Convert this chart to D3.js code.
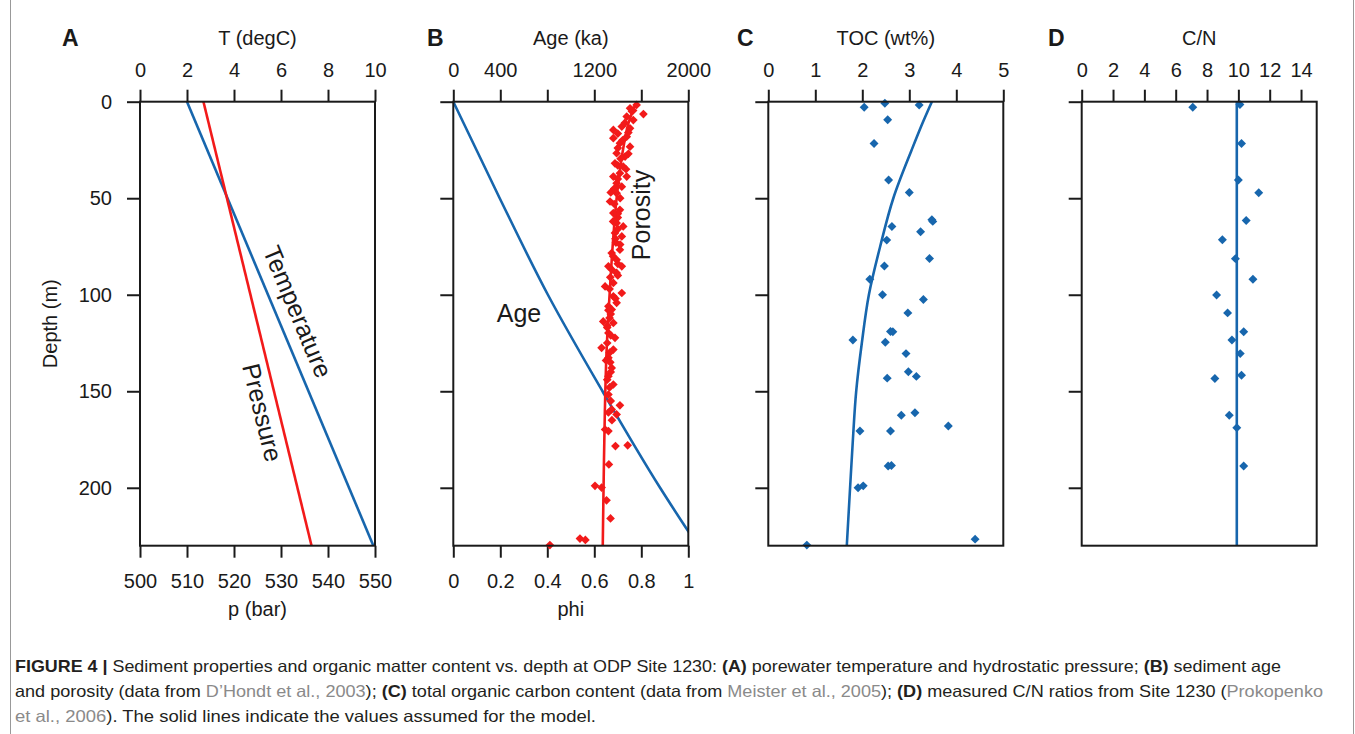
<!DOCTYPE html>
<html>
<head>
<meta charset="utf-8">
<script src="https://cdn.jsdelivr.net/npm/d3@7"></script>
<style>
  body { margin: 0; background: #fff; }
  svg { display: block; font-family: "Liberation Sans", Arial, sans-serif; }
  .tick text { font-size: 20px; fill: #1a1a1a; }
  .tick line { stroke: #1a1a1a; stroke-width: 2; }
</style>
</head>
<body>
<svg id="chart" width="1355" height="734"></svg>
<script>
// depth axis shared by all four panels
const depthMax = 230;
const depthTicks = [0, 50, 100, 150, 200];

// A: temperature and pressure (model lines)
const tempDepth = [0, 230];
const tempValues = [2.0, 9.93];
const pressDepth = [0, 230];
const pressValues = [513.5, 536.5];
const tempTicks = [0, 2, 4, 6, 8, 10];
const pressTicks = [500, 510, 520, 530, 540, 550];

// B: age model and porosity
const ageDepth = [0, 50, 100, 150, 200, 230];
const ageValues = [0, 395, 805, 1270, 1760, 2080];
const ageTicks = [0, 400, 800, 1200, 1600, 2000];
const ageLabels = ["0", "400", "", "1200", "", "2000"];
const phiTicks = [0, 0.2, 0.4, 0.6, 0.8, 1];
const phiLineDepth = [0, 10, 25, 50, 75, 100, 130, 160, 195, 230];
const phiLineValues = [0.78, 0.748, 0.722, 0.695, 0.678, 0.665, 0.652, 0.645, 0.64, 0.636];
const phiDepth = [1.7, 3.4, 6.4, 9.5, 7.7, 14.6, 12.9, 13.8, 18.9, 18.1, 21.5, 23.3, 26.7, 28.4,
  31.9, 33.6, 37, 38.8, 38.8, 42.2, 51.7, 47.4, 44, 57.7, 56, 62.9, 64.6, 68, 69.8, 78.4, 76.7,
  81.9, 85.3, 85.3, 88.7, 95.7, 93.9, 99.1, 100.8, 106, 104.2, 107.7, 113.8, 114.6, 119.8, 122.3,
  127.5, 128.4, 132.7, 137.9, 142.2, 146.5, 151.7, 157.3, 159.4, 162, 170.6, 169.8, 178.4, 178,
  187.9, 199, 199.9, 206.5, 215.9, 226.3, 227, 229.7, 4.5, 16.5, 29.5, 47, 60, 73, 91, 110, 117, 135,
  5, 11, 16, 20, 24, 27, 33, 35, 40, 45, 50, 53, 58, 62, 66, 71, 74, 80, 84, 87, 90, 97, 102, 108,
  112, 116, 121, 125, 130, 134, 140, 144, 148, 155, 161, 165];
const phiValues = [0.78, 0.752, 0.809, 0.766, 0.738, 0.681, 0.717, 0.752, 0.681, 0.738, 0.709, 0.752, 0.695, 0.731,
  0.688, 0.723, 0.709, 0.681, 0.738, 0.695, 0.667, 0.695, 0.717, 0.681, 0.709, 0.695, 0.723, 0.688, 0.717, 0.674, 0.709,
  0.695, 0.717, 0.66, 0.695, 0.646, 0.681, 0.717, 0.681, 0.66, 0.695, 0.674, 0.638, 0.681, 0.66, 0.688,
  0.631, 0.681, 0.66, 0.674, 0.66, 0.681, 0.66, 0.709, 0.674, 0.695, 0.66, 0.646, 0.69, 0.742,
  0.662, 0.603, 0.631, 0.652, 0.669, 0.539, 0.562, 0.411, 0.765, 0.7, 0.712, 0.67, 0.7, 0.692, 0.668, 0.67, 0.655, 0.668,
  0.76, 0.73, 0.745, 0.72, 0.70, 0.745, 0.70, 0.735, 0.70, 0.685, 0.71, 0.685, 0.70, 0.68, 0.70, 0.69, 0.71, 0.68,
  0.70, 0.675, 0.70, 0.665, 0.69, 0.66, 0.665, 0.655, 0.67, 0.655, 0.665, 0.65, 0.67, 0.655, 0.665, 0.67, 0.66, 0.675];

// C: total organic carbon
const tocTicks = [0, 1, 2, 3, 4, 5];
const tocLineDepth = [0, 10, 25, 50, 75, 100, 125, 150, 175, 200, 230];
const tocLineValues = [3.48, 3.3, 3.05, 2.66, 2.38, 2.14, 1.99, 1.87, 1.8, 1.74, 1.67];
const tocDepth = [2.9, 0.8, 1.7, 9.3, 21.7, 40.6, 47, 62, 61.2, 64.6, 67.4, 71.7, 81.2, 85.1, 92, 100,
  102.5, 109.4, 119.2, 119, 123.4, 124.6, 130.5, 139.9, 142.3, 143.2, 162.4, 161.1, 168, 170.6,
  170.6, 188.7, 188.5, 200, 199, 226.6, 229.7];
const tocValues = [2.04, 2.48, 3.21, 2.54, 2.25, 2.56, 3.0, 3.5, 3.48, 2.63, 3.24, 2.52, 3.43, 2.47, 2.16, 2.43,
  3.3, 2.97, 2.65, 2.6, 1.8, 2.49, 2.93, 2.98, 3.15, 2.53, 2.83, 3.12, 3.83, 1.95,
  2.6, 2.55, 2.62, 1.91, 2.02, 4.4, 0.82];

// D: C/N ratio
const cnTicks = [0, 2, 4, 6, 8, 10, 12, 14];
const cnLineDepth = [0, 230];
const cnLineValues = [9.9, 9.9];
const cnDepth = [2.9, 1.4, 21.7, 40.6, 47.2, 61.5, 71.5, 81.3, 92, 100.1, 109.4, 119.2, 123.4,
  130.5, 143.4, 141.7, 162.4, 168.9, 188.7];
const cnValues = [7.09, 10.1, 10.2, 10.0, 11.3, 10.5, 8.98, 9.81, 10.93, 8.61, 9.31, 10.34, 9.59,
  10.12, 8.5, 10.2, 9.42, 9.9, 10.34];

const blue = "#1766ad";
const red = "#f21a1a";
const ink = "#1a1a1a";

const svg = d3.select("#chart");
const plotTop = 101.7, plotBottom = 545.7, panelW = 235;
const panelLeft = [140, 453.3, 768.3, 1081.7];
const letterX = [62, 427, 737, 1048];

const y = d3.scaleLinear().domain([0, depthMax]).range([plotTop, plotBottom]);

function makePanel(i, letter, title) {
  const x0 = panelLeft[i];
  const g = svg.append("g");
  g.append("clipPath").attr("id", "clip" + i)
    .append("rect").attr("x", x0).attr("y", plotTop).attr("width", panelW).attr("height", plotBottom - plotTop);

  // left depth ticks
  const ax = d3.axisLeft(y).tickValues(depthTicks).tickSize(13).tickPadding(15)
    .tickFormat(i === 0 ? d => d : () => "");
  g.append("g").attr("transform", `translate(${x0},0)`).call(ax)
    .call(s => s.select(".domain").remove());

  g.append("text").attr("x", letterX[i]).attr("y", 46)
    .attr("font-size", 23).attr("font-weight", "bold").attr("fill", ink).text(letter);
  g.append("text").attr("x", x0 + panelW / 2).attr("y", 45).attr("text-anchor", "middle")
    .attr("font-size", 20).attr("fill", ink).text(title);
  return g;
}

function topAxis(g, scale, ticks, labels) {
  const ax = d3.axisTop(scale).tickValues(ticks).tickSize(12).tickPadding(12.4).tickSizeOuter(0)
    .tickFormat((d, k) => labels ? labels[k] : d);
  g.append("g").attr("transform", `translate(0,${plotTop})`).call(ax)
    .call(s => s.select(".domain").remove());
}

function bottomAxis(g, scale, ticks, title) {
  const ax = d3.axisBottom(scale).tickValues(ticks).tickSize(12).tickPadding(16.4).tickSizeOuter(0)
    .tickFormat(d => d);
  g.append("g").attr("transform", `translate(0,${plotBottom})`).call(ax)
    .call(s => s.select(".domain").remove());
  g.append("text").attr("x", (scale.range()[0] + scale.range()[1]) / 2).attr("y", 616)
    .attr("text-anchor", "middle").attr("font-size", 20).attr("fill", ink).text(title);
}

function frame(g, i) {
  g.append("rect").attr("x", panelLeft[i]).attr("y", plotTop).attr("width", panelW).attr("height", plotBottom - plotTop)
    .attr("fill", "none").attr("stroke", ink).attr("stroke-width", 2);
}

function drawLine(g, i, scale, depths, values, color, curve) {
  const line = d3.line().x(d => scale(d[1])).y(d => y(d[0])).curve(curve || d3.curveLinear);
  g.append("path").datum(depths.map((d, k) => [d, values[k]]))
    .attr("clip-path", `url(#clip${i})`)
    .attr("d", line).attr("fill", "none").attr("stroke", color).attr("stroke-width", 2.6);
}

function drawDiamonds(g, scale, depths, values, color, size) {
  const sym = d3.symbol(d3.symbolSquare, size);
  g.append("g").selectAll("path").data(depths.map((d, k) => [d, values[k]])).join("path")
    .attr("d", sym)
    .attr("transform", d => `translate(${scale(d[1])},${y(d[0])}) rotate(45)`)
    .attr("fill", color);
}

// label sitting along a straight model line
function lineLabel(g, scale, depths, values, atDepth, offset, text) {
  const xa = scale(values[0]), ya = y(depths[0]);
  const xb = scale(values[1]), yb = y(depths[1]);
  const ang = Math.atan2(yb - ya, xb - xa);
  const t = (atDepth - depths[0]) / (depths[1] - depths[0]);
  const px = xa + t * (xb - xa), py = ya + t * (yb - ya);
  const nx = Math.sin(ang), ny = -Math.cos(ang);
  g.append("text")
    .attr("transform", `translate(${px + offset * nx},${py + offset * ny}) rotate(${ang * 180 / Math.PI})`)
    .attr("text-anchor", "middle").attr("font-size", 25).attr("fill", ink).text(text);
}

// ---- Panel A
const xT = d3.scaleLinear().domain([0, 10]).range([panelLeft[0], panelLeft[0] + panelW]);
const xP = d3.scaleLinear().domain([500, 550]).range([panelLeft[0], panelLeft[0] + panelW]);
const gA = makePanel(0, "A", "T (degC)");
topAxis(gA, xT, tempTicks);
bottomAxis(gA, xP, pressTicks, "p (bar)");
drawLine(gA, 0, xT, tempDepth, tempValues, blue);
drawLine(gA, 0, xP, pressDepth, pressValues, red);
frame(gA, 0);
lineLabel(gA, xT, tempDepth, tempValues, 113, 12, "Temperature");
lineLabel(gA, xP, pressDepth, pressValues, 159, -25, "Pressure");
gA.append("text").attr("transform", `translate(57,${(plotTop + plotBottom) / 2}) rotate(-90)`)
  .attr("text-anchor", "middle").attr("font-size", 20).attr("fill", ink).text("Depth (m)");

// ---- Panel B
const xAge = d3.scaleLinear().domain([0, 2000]).range([panelLeft[1], panelLeft[1] + panelW]);
const xPhi = d3.scaleLinear().domain([0, 1]).range([panelLeft[1], panelLeft[1] + panelW]);
const gB = makePanel(1, "B", "Age (ka)");
topAxis(gB, xAge, ageTicks, ageLabels);
bottomAxis(gB, xPhi, phiTicks, "phi");
drawLine(gB, 1, xAge, ageDepth, ageValues, blue, d3.curveMonotoneY);
drawDiamonds(gB, xPhi, phiDepth, phiValues, red, 38);
drawLine(gB, 1, xPhi, phiLineDepth, phiLineValues, red, d3.curveMonotoneY);
frame(gB, 1);
gB.append("text").attr("x", xAge(370)).attr("y", y(114)).attr("font-size", 25).attr("fill", ink).text("Age");
gB.append("text").attr("transform", `translate(${xPhi(0.837)},${y(58.7)}) rotate(-90)`)
  .attr("text-anchor", "middle").attr("font-size", 25).attr("fill", ink).text("Porosity");

// ---- Panel C
const xToc = d3.scaleLinear().domain([0, 5]).range([panelLeft[2], panelLeft[2] + panelW]);
const gC = makePanel(2, "C", "TOC (wt%)");
topAxis(gC, xToc, tocTicks);
drawLine(gC, 2, xToc, tocLineDepth, tocLineValues, blue, d3.curveMonotoneY);
drawDiamonds(gC, xToc, tocDepth, tocValues, blue, 40);
frame(gC, 2);

// ---- Panel D
const xCn = d3.scaleLinear().domain([0, 15]).range([panelLeft[3], panelLeft[3] + panelW]);
const gD = makePanel(3, "D", "C/N");
topAxis(gD, xCn, cnTicks);
drawLine(gD, 3, xCn, cnLineDepth, cnLineValues, blue);
drawDiamonds(gD, xCn, cnDepth, cnValues, blue, 40);
frame(gD, 3);

// ---- caption
const captionLines = [
  { y: 672, len: 1266, parts: [["FIGURE 4 | ", "b"], ["Sediment properties and organic matter content vs. depth at ODP Site 1230: ", ""],
    ["(A)", "b"], [" porewater temperature and hydrostatic pressure; ", ""], ["(B)", "b"], [" sediment age", ""]] },
  { y: 697, len: 1308, parts: [["and porosity (data from ", ""], ["D\u2019Hondt et al., 2003", "g"], ["); ", ""], ["(C)", "b"],
    [" total organic carbon content (data from ", ""], ["Meister et al., 2005", "g"], ["); ", ""], ["(D)", "b"],
    [" measured C/N ratios from Site 1230 (", ""], ["Prokopenko", "g"]] },
  { y: 722, len: 581, parts: [["et al., 2006", "g"], ["). The solid lines indicate the values assumed for the model.", ""]] }
];
captionLines.forEach(l => {
  const t = svg.append("text").attr("x", 15).attr("y", l.y).attr("font-size", 16.5)
    .attr("textLength", l.len).attr("lengthAdjust", "spacingAndGlyphs").attr("fill", "#231f20");
  l.parts.forEach(p => {
    t.append("tspan").text(p[0])
      .attr("font-weight", p[1] === "b" ? "bold" : null)
      .attr("fill", p[1] === "g" ? "#8a8a8a" : null);
  });
});

svg.append("line").attr("x1", 10.5).attr("x2", 10.5).attr("y1", 0).attr("y2", 734).attr("stroke", "#999");
svg.append("line").attr("x1", 1353.5).attr("x2", 1353.5).attr("y1", 0).attr("y2", 734).attr("stroke", "#999");
</script>
</body>
</html>
